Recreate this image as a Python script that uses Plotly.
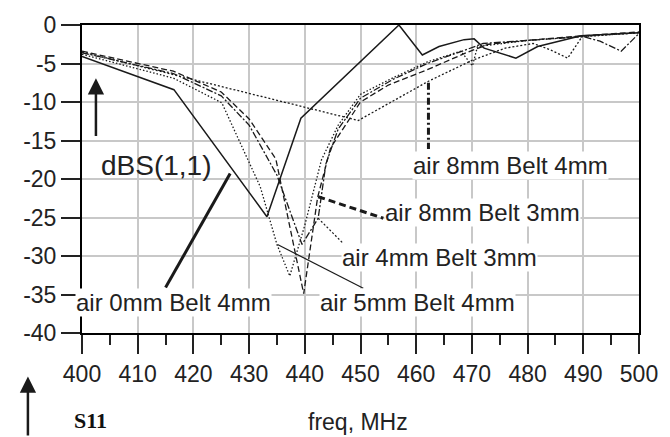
import plotly.graph_objects as go

# ---- data ----
freq_air0_belt4 = [400, 416.5, 433.2, 439.3, 456.9, 461.1, 464.1, 468.6, 470.4, 472.2, 477.9, 481.8, 489.6, 500]
s11_air0_belt4 = [-4.1, -8.4, -24.9, -12.1, 0.0, -3.9, -2.8, -1.9, -1.8, -3.0, -4.3, -2.8, -1.4, -1.0]

freq_air8_belt4 = [400, 449.6, 462.2, 470.0, 476, 481, 484, 487.2, 489.8, 495, 500]
s11_air8_belt4 = [-3.5, -12.4, -7.3, -4.6, -3.0, -2.4, -3.2, -4.3, -1.5, -1.2, -1.0]

freq_air8_belt3 = [400, 416.4, 425, 430, 434.8, 439.8, 442.3, 444.6, 450, 455, 462, 469, 473, 480, 490, 500]
s11_air8_belt3 = [-3.4, -6.0, -8.7, -12.2, -17.4, -34.9, -22.4, -16.0, -10.0, -7.8, -5.8, -3.6, -2.5, -2.0, -1.4, -0.9]

freq_air4_belt3 = [400, 416.4, 425, 430, 435, 439.5, 442.4, 443.8, 446, 450, 456, 462, 469, 472, 480, 490, 493, 496.8, 500]
s11_air4_belt3 = [-3.6, -6.3, -9.2, -13.0, -19.5, -28.5, -25.1, -18.0, -13.5, -9.5, -7.0, -5.0, -3.2, -2.4, -2.0, -1.5, -2.1, -3.4, -1.1]

freq_air5_belt4 = [400, 416.4, 425.1, 432, 435, 437.3, 440, 443, 446, 450, 456, 462, 468, 470.1, 471, 480, 490, 500]
s11_air5_belt4 = [-3.8, -6.9, -10.1, -21.0, -28.5, -32.6, -26.0, -17.5, -13.0, -9.0, -6.8, -4.8, -3.4, -5.3, -2.8, -2.0, -1.5, -1.0]

x_ticks = [400, 410, 420, 430, 440, 450, 460, 470, 480, 490, 500]
y_ticks = [0, -5, -10, -15, -20, -25, -30, -35, -40]

series = [
    (freq_air0_belt4, s11_air0_belt4, "solid", 1.5),
    (freq_air8_belt4, s11_air8_belt4, "2px,2px", 1.3),
    (freq_air8_belt3, s11_air8_belt3, "6px,3px", 1.3),
    (freq_air4_belt3, s11_air4_belt3, "7px,2px,2px,2px", 1.3),
    (freq_air5_belt4, s11_air5_belt4, "1.5px,2px", 1.3),
]

fig = go.Figure()
for f, s, dash, w in series:
    fig.add_trace(go.Scatter(x=f, y=s, mode="lines",
                             line=dict(color="#1a1a1a", width=w, dash=dash),
                             showlegend=False, hoverinfo="skip"))

FONT = "Liberation Sans, Arial, sans-serif"
TXT = "#222222"

fig.update_layout(
    width=670, height=437,
    margin=dict(l=82, r=31, t=22, b=104),
    plot_bgcolor="white", paper_bgcolor="white",
    showlegend=False,
    font=dict(family=FONT, size=23, color=TXT),
)
fig.update_xaxes(
    range=[400, 500], tickvals=x_ticks, ticktext=[str(v) for v in x_ticks],
    showgrid=True, gridcolor="#c8c8c8", gridwidth=1.5,
    showline=True, linecolor="black", linewidth=2, mirror=True,
    ticks="outside", ticklen=19, tickwidth=2, tickcolor="#222",
    minor=dict(ticks="outside", ticklen=10, tickwidth=1.5, tickcolor="#222",
               dtick=5, tick0=400, showgrid=False),
    zeroline=False, tickfont=dict(size=23, family=FONT, color=TXT),
)
fig.update_yaxes(
    range=[-40, 0], tickvals=y_ticks, ticktext=[str(v) for v in y_ticks],
    showgrid=True, gridcolor="#c8c8c8", gridwidth=1.5,
    showline=True, linecolor="black", linewidth=2, mirror=True,
    ticks="outside", ticklen=19, tickwidth=2, tickcolor="#222",
    zeroline=False, tickfont=dict(size=23, family=FONT, color=TXT),
)

# pointer lines for labels
pointers = [
    (415.0, -34.1, 426.6, -19.3, "solid", 3),      # air 0mm
    (435.1, -28.5, 450.5, -34.2, "solid", 1.2),    # air 5mm
    (442.4, -25.1, 446.8, -28.3, "2px,2px", 1.2),  # air 4mm
    (442.4, -22.3, 454.1, -25.1, "7px,4px", 3),    # air 8mm Belt 3mm
    (462.2, -7.5, 462.2, -16.1, "7px,3px,2px,3px", 3),  # air 8mm Belt 4mm
]
for x0, y0, x1, y1, dash, w in pointers:
    fig.add_shape(type="line", xref="x", yref="y", x0=x0, y0=y0, x1=x1, y1=y1,
                  line=dict(color="#1a1a1a", width=w, dash=dash))

labels = [
    ("air 8mm Belt 4mm", 477.0, -18.2),
    ("air 8mm Belt 3mm", 471.9, -24.4),
    ("air 4mm Belt 3mm", 464.1, -30.2),
    ("air 5mm Belt 4mm", 460.2, -36.0),
    ("air 0mm Belt 4mm", 416.4, -36.0),
]
for t, x, y in labels:
    fig.add_annotation(x=x, y=y, xref="x", yref="y", text=t, showarrow=False,
                       font=dict(size=24, family=FONT, color=TXT),
                       bgcolor="white", borderpad=0, xanchor="center", yanchor="middle")

fig.add_annotation(x=413.3, y=-18.2, xref="x", yref="y", text="dBS(1,1)", showarrow=False,
                   font=dict(size=28, family=FONT, color=TXT), xanchor="center", yanchor="middle")
# upward arrow near dBS(1,1)
fig.add_annotation(x=402.5, y=-6.9, xref="x", yref="y", ax=402.5, ay=-14.6,
                   axref="x", ayref="y", text="", showarrow=True,
                   arrowhead=2, arrowsize=1.3, arrowwidth=2.5, arrowcolor="#1a1a1a")

# x axis title
fig.add_annotation(x=0.495, y=-0.29, xref="paper", yref="paper", text="freq, MHz",
                   showarrow=False, font=dict(size=23, family=FONT, color=TXT),
                   xanchor="center", yanchor="middle")
# S11 with arrow
fig.add_annotation(x=-0.018, y=-0.285, xref="paper", yref="paper", text="<b>S11</b>",
                   showarrow=False, font=dict(size=22, family="Liberation Serif, Times New Roman, serif", color="#111"),
                   xanchor="left", yanchor="middle")
fig.add_annotation(x=-0.0971, y=-0.1415, xref="paper", yref="paper", ax=0, ay=62,
                   text="", showarrow=True, arrowhead=2, arrowsize=1.3, arrowwidth=2.5,
                   arrowcolor="#1a1a1a")

fig.write_html("out.html")
